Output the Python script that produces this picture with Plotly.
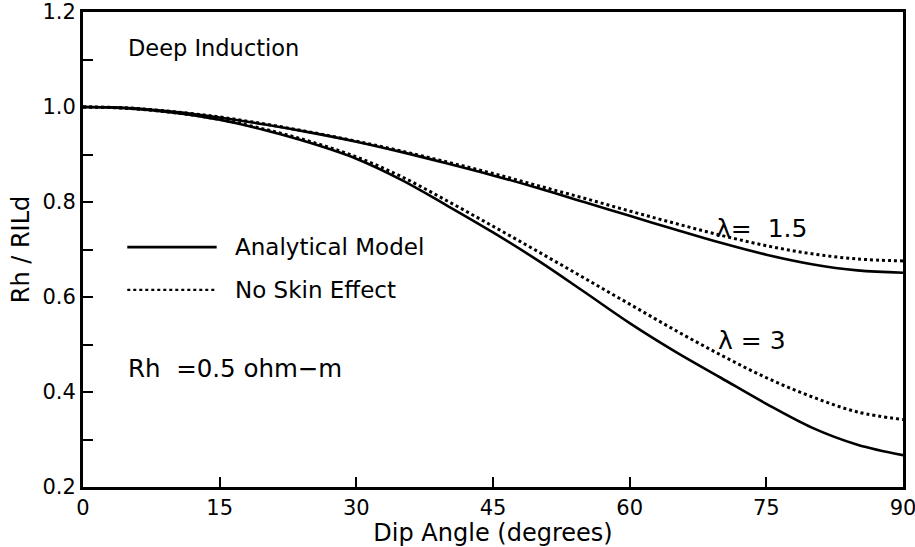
import plotly.graph_objects as go

angles = [0, 5, 10, 15, 20, 25, 30, 35, 40, 45, 50, 55, 60, 65, 70, 75, 80, 85, 90]

analytical_l15 = [1.0, 0.998, 0.990, 0.978, 0.963, 0.946, 0.927, 0.905, 0.881, 0.856,
                  0.829, 0.800, 0.771, 0.742, 0.714, 0.689, 0.669, 0.656, 0.651]
noskin_l15 = [1.0, 0.998, 0.990, 0.979, 0.964, 0.947, 0.928, 0.907, 0.884, 0.860,
              0.834, 0.808, 0.781, 0.755, 0.730, 0.708, 0.691, 0.680, 0.676]
analytical_l3 = [1.0, 0.997, 0.988, 0.973, 0.951, 0.924, 0.891, 0.846, 0.792, 0.736,
                 0.676, 0.611, 0.545, 0.485, 0.430, 0.375, 0.325, 0.289, 0.267]
noskin_l3 = [1.0, 0.997, 0.988, 0.974, 0.953, 0.927, 0.895, 0.853, 0.802, 0.749,
             0.695, 0.640, 0.585, 0.530, 0.478, 0.430, 0.390, 0.358, 0.342]

x_ticks = [0, 15, 30, 45, 60, 75, 90]
y_ticks = [0.2, 0.4, 0.6, 0.8, 1.0, 1.2]
y_ticklabels = ["0.2", "0.4", "0.6", "0.8", "1.0", "1.2"]

FONT = "DejaVu Sans, sans-serif"

fig = go.Figure()
for ys in (analytical_l15, analytical_l3):
    fig.add_trace(go.Scatter(x=angles, y=ys, mode="lines", line_shape="spline",
                             line=dict(color="black", width=2.6), showlegend=False,
                             name="Analytical Model"))
for ys in (noskin_l15, noskin_l3):
    fig.add_trace(go.Scatter(x=angles, y=ys, mode="lines", line_shape="spline",
                             line=dict(color="black", width=3, dash="dot"), showlegend=False,
                             name="No Skin Effect"))

fig.update_layout(
    width=915, height=547,
    margin=dict(l=83, r=12, t=12, b=60),
    paper_bgcolor="white", plot_bgcolor="white",
    font=dict(family=FONT, color="black", size=21),
    xaxis=dict(range=[0, 90], tickvals=x_ticks, ticktext=[str(v) for v in x_ticks],
               ticks="inside", ticklen=10, tickwidth=2, tickcolor="black",
               showline=True, linewidth=3, linecolor="black", mirror=True,
               showgrid=False, zeroline=False, automargin=False,
               ticklabeloverflow="allow",
               tickfont=dict(size=21, family=FONT),
               title=dict(text="Dip Angle (degrees)", font=dict(size=24), standoff=0)),
    yaxis=dict(range=[0.2, 1.2], tickvals=y_ticks, ticktext=y_ticklabels,
               ticks="inside", ticklen=10, tickwidth=2, tickcolor="black",
               minor=dict(dtick=0.1, ticks="inside", ticklen=10, tickwidth=2, tickcolor="black", showgrid=False),
               showline=True, linewidth=3, linecolor="black", mirror=True,
               showgrid=False, zeroline=False, automargin=False,
               ticklabeloverflow="allow",
               tickfont=dict(size=21, family=FONT),
               title=dict(text="Rh / RILd", font=dict(size=24), standoff=6)),
)

def ann(text, x, y, size):
    fig.add_annotation(text=text, x=x, y=y, xref="paper", yref="paper", showarrow=False,
                       font=dict(size=size, family=FONT, color="black"),
                       xanchor="left", yanchor="middle")

ann("Deep Induction", 0.052, 0.924, 22.5)
ann("Rh\u00a0 =0.5 ohm\u2212m", 0.053, 0.25, 24.5)
ann("Analytical Model", 0.183, 0.505, 23)
ann("No Skin Effect", 0.183, 0.415, 23)
ann("\u03bb=\u00a0 1.5", 0.769, 0.545, 25)
ann("\u03bb = 3", 0.772, 0.309, 25)

fig.add_shape(type="line", xref="paper", yref="paper", x0=0.054, x1=0.163, y0=0.505, y1=0.505,
              line=dict(color="black", width=2.6))
fig.add_shape(type="line", xref="paper", yref="paper", x0=0.054, x1=0.163, y0=0.415, y1=0.415,
              line=dict(color="black", width=2.4, dash="dot"))

fig.write_html("out.html")
